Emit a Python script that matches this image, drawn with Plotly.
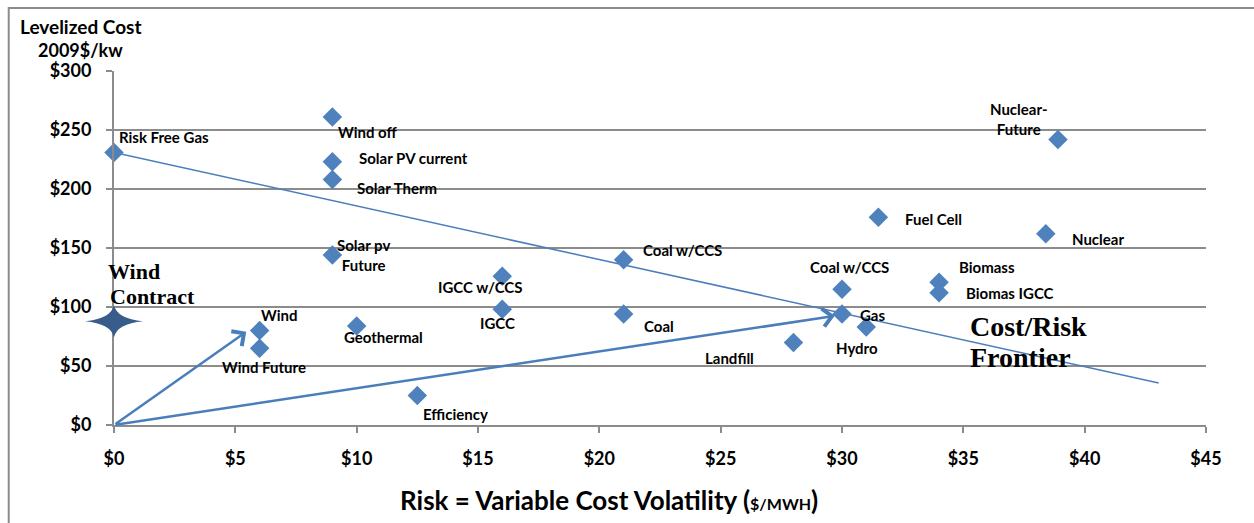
import plotly.graph_objects as go

# ---------------- data ----------------
tech = ["Risk Free Gas", "Wind off", "Solar PV current", "Solar Therm", "Solar pv<br>Future",
        "Wind", "Wind Future", "Geothermal", "Efficiency", "IGCC w/CCS", "IGCC",
        "Coal w/CCS", "Coal", "Landfill", "Coal w/CCS", "Gas", "Hydro", "Fuel Cell",
        "Biomass", "Biomas IGCC", "Nuclear", "Nuclear-<br>Future"]
risk = [0, 9, 9, 9, 9, 6, 6, 10, 12.5, 16, 16, 21, 21, 28, 30, 30, 31, 31.5, 34, 34, 38.4, 38.9]
cost = [231, 261, 223, 208, 144, 80, 65, 84, 25, 126, 98, 140, 94, 70, 115, 94, 83, 176, 121, 112, 162, 242]

frontier_risk = [0, 43.05]
frontier_cost = [231, 35.6]

arrow_from_risk = [0, 0]
arrow_from_cost = [0, 0]
arrow_to_risk = [5.45, 29.7]
arrow_to_cost = [79, 92.5]

wind_contract_risk = [0]
wind_contract_cost = [88]

x_ticks = [0, 5, 10, 15, 20, 25, 30, 35, 40, 45]
y_ticks = [0, 50, 100, 150, 200, 250, 300]

# ---------------- styles ----------------
BLUE = "#4F81BD"
LINE_BLUE = "#4A7EBB"
STAR = "#385D8A"
GRID = "#8C8C8C"
SANS = "Lato"
SERIF = "Liberation Serif"

# label placement: (xanchor, xshift px, yshift px)
label_pos = [("left", 5, 15), ("left", 6, -15), ("left", 27, 4), ("left", 25, -8),
             ("center", 31, 0), ("left", 1, 16), ("center", 4, -19), ("center", 27, -11),
             ("left", 6, -18), ("center", -22, -11), ("center", -5, -14), ("left", 19, 10),
             ("left", 20, -12), ("right", -39, -16), ("center", 7, 22), ("left", 18, -1),
             ("center", -9, -21), ("left", 27, -2), ("left", 20, 15), ("left", 27, 0),
             ("left", 26, -5), ("center", -39, 20)]

fig = go.Figure()

# frontier line
fig.add_trace(go.Scatter(x=frontier_risk, y=frontier_cost, mode="lines",
                         line=dict(color=LINE_BLUE, width=1.5), hoverinfo="skip",
                         showlegend=False, cliponaxis=False))

# technology points
fig.add_trace(go.Scatter(x=risk, y=cost, mode="markers",
                         marker=dict(symbol="diamond", size=15, color=BLUE, line=dict(width=0)),
                         text=tech, showlegend=False, cliponaxis=False))

# labels
for name, xv, yv, (anc, dx, dy) in zip(tech, risk, cost, label_pos):
    fig.add_annotation(x=xv, y=yv, xref="x", yref="y", text=name, showarrow=False,
                       xanchor=anc, yanchor="middle", xshift=dx, yshift=dy,
                       align="center", borderpad=0, borderwidth=0,
                       font=dict(family=SANS, size=15, color="#000000", weight="bold"))

# arrows
for fx, fy, tx, ty in zip(arrow_from_risk, arrow_from_cost, arrow_to_risk, arrow_to_cost):
    fig.add_annotation(x=tx, y=ty, ax=fx, ay=fy, xref="x", yref="y", axref="x", ayref="y",
                       text="", showarrow=True, arrowhead=4, arrowsize=1.4,
                       arrowwidth=2.5, arrowcolor=LINE_BLUE, standoff=0)

# wind contract star
for xv, yv in zip(wind_contract_risk, wind_contract_cost):
    fig.add_shape(type="path", xref="paper", yref="y", xsizemode="pixel", ysizemode="pixel",
                  xanchor=xv, yanchor=yv,
                  path="M-29,0 Q-3,2.5 0,16 Q3,2.5 29,0 Q3,-2.5 0,-16 Q-3,-2.5 -29,0 Z",
                  fillcolor=STAR, line=dict(width=0))
    fig.add_annotation(x=xv, y=yv, xref="x", yref="y", text="Wind", showarrow=False,
                       xanchor="left", yanchor="middle", xshift=-6, yshift=50,
                       borderpad=0, borderwidth=0,
                       font=dict(family=SERIF, size=22, color="#000000", weight="bold"))
    fig.add_annotation(x=xv, y=yv, xref="x", yref="y", text="Contract", showarrow=False,
                       xanchor="left", yanchor="middle", xshift=-4, yshift=25,
                       borderpad=0, borderwidth=0,
                       font=dict(family=SERIF, size=22, color="#000000", weight="bold"))

# Cost/Risk Frontier text
fig.add_annotation(x=35.26, y=83.9, xref="x", yref="y", text="Cost/Risk", showarrow=False,
                   xanchor="left", yanchor="middle", borderpad=0, borderwidth=0,
                   font=dict(family=SERIF, size=28, color="#000000", weight="bold"))
fig.add_annotation(x=35.26, y=57.6, xref="x", yref="y", text="Frontier", showarrow=False,
                   xanchor="left", yanchor="middle", borderpad=0, borderwidth=0,
                   font=dict(family=SERIF, size=28, color="#000000", weight="bold"))

# axis titles
fig.add_annotation(x=-0.0305, y=1.1243, xref="paper", yref="paper", text="Levelized Cost",
                   showarrow=False, xanchor="center", yanchor="middle", borderpad=0,
                   font=dict(family=SANS, size=19, color="#000000", weight="bold"))
fig.add_annotation(x=-0.0305, y=1.0593, xref="paper", yref="paper", text="2009$/kw",
                   showarrow=False, xanchor="center", yanchor="middle", borderpad=0,
                   font=dict(family=SANS, size=18, color="#000000", weight="bold"))
fig.add_annotation(x=0.453, y=-0.212, xref="paper", yref="paper",
                   text="Risk = Variable Cost Volatility (<span style='font-size:16px'>$/MWH</span>)",
                   showarrow=False, xanchor="center", yanchor="middle",
                   font=dict(family=SANS, size=26, color="#000000", weight="bold"))

# chart border
fig.add_shape(type="rect", xref="paper", yref="paper", x0=-0.0964, x1=1.2, y0=-0.5, y1=1.178,
              line=dict(color=GRID, width=2), fillcolor="rgba(0,0,0,0)", layer="below")

fig.update_xaxes(range=[0, 45], tickvals=x_ticks, ticktext=[f"${v}" for v in x_ticks],
                 showgrid=False, zeroline=False, showline=True, linecolor=GRID, linewidth=2,
                 ticks="outside", ticklen=6, tickwidth=2, tickcolor=GRID,
                 ticklabelstandoff=10,
                 tickfont=dict(family=SANS, size=18, color="#000000", weight="bold"))
fig.update_yaxes(range=[0, 300], tickvals=y_ticks, ticktext=[f"${v}" for v in y_ticks],
                 showgrid=True, gridcolor=GRID, gridwidth=2, zeroline=False,
                 showline=True, linecolor=GRID, linewidth=2,
                 ticks="outside", ticklen=6, tickwidth=2, tickcolor=GRID,
                 ticklabelstandoff=11,
                 tickfont=dict(family=SANS, size=18, color="#000000", weight="bold"))

fig.update_layout(width=1254, height=523, autosize=False,
                  margin=dict(l=114, r=48, t=71, b=98),
                  plot_bgcolor="white", paper_bgcolor="white", showlegend=False)

fig.write_html("out.html", config={"displayModeBar": False},
               post_script="document.body.style.margin='0';")
